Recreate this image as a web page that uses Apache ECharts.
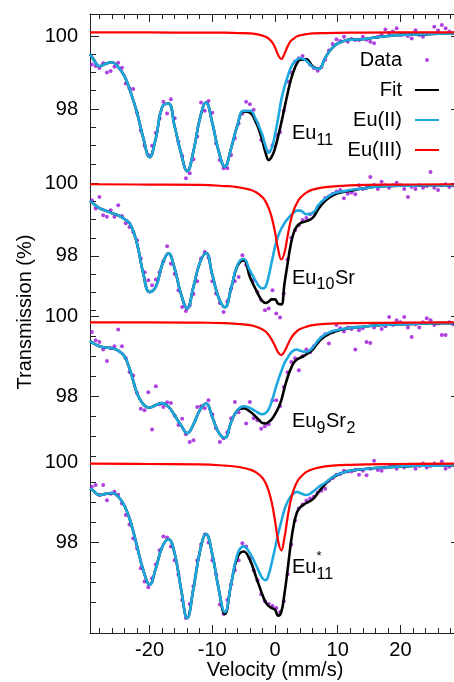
<!DOCTYPE html>
<html><head><meta charset="utf-8">
<script src="https://cdn.jsdelivr.net/npm/echarts@6/dist/echarts.min.js"></script>
<style>html,body{margin:0;padding:0;background:#fff}#c{width:454px;height:682px}</style>
</head><body><div id="c"></div>
<script>
// ---------------- data ----------------
const velocityTicksMajor = [-20, -10, 0, 10, 20];
const velocityTicksMinor = [-28,-26,-24,-22,-18,-16,-14,-12,-8,-6,-4,-2,2,4,6,8,12,14,16,18,22,24,26,28];
const transTicksMajor = [98, 100];
const transTicksMinor = [96.5, 97, 97.5, 98.5, 99, 99.5];
const seriesNames = ['Data', 'Fit', 'Eu(II)', 'Eu(III)'];

const dataV = [
 -29.2,-28.6,-28.0,-27.4,-26.8,-26.2,-25.6,-25.0,-24.4,-23.8,
 -23.2,-22.6,-22.0,-21.4,-20.8,-20.2,-19.6,-19.0,-18.4,-17.8,
 -17.2,-16.6,-16.0,-15.4,-14.8,-14.2,-13.6,-13.0,-12.4,-11.8,
 -11.2,-10.6,-10.0,-9.4,-8.8,-8.2,-7.6,-7.0,-6.4,-5.8,
 -5.2,-4.6,-4.0,-3.4,-2.8,-2.2,-1.6,-1.0,-0.4,0.2,
 0.8,1.4,2.0,2.6,3.2,3.8,4.4,5.0,5.6,6.2,
 6.8,7.4,8.0,8.6,9.2,9.8,10.4,11.0,11.6,12.2,
 12.8,13.4,14.0,14.6,15.2,15.8,16.4,17.0,17.6,18.2,
 18.8,19.4,20.0,20.6,21.2,21.8,22.4,23.0,23.6,24.2,
 24.8,25.4,26.0,26.6,27.2,27.8,28.4];

const dataEu11 = [
 99.22,99.18,99.12,99.25,99.00,99.04,99.16,99.27,99.13,98.70,
 98.57,98.55,97.90,97.41,96.99,96.74,96.99,97.35,97.75,98.20,
 97.88,98.27,97.75,97.10,96.71,96.10,96.24,96.62,97.25,98.18,
 97.95,98.22,97.90,97.06,96.60,96.38,96.38,96.74,97.20,97.60,
 97.88,98.20,98.13,97.98,97.60,97.15,96.95,96.83,97.01,97.29,
 97.36,97.95,98.75,99.00,99.30,99.39,99.45,99.35,99.22,99.12,
 99.05,99.15,99.35,99.60,99.78,99.91,99.86,99.98,99.84,99.92,
 99.89,99.89,99.98,99.90,99.84,99.80,99.98,100.04,100.18,100.08,
 100.12,100.21,100.03,100.07,100.00,99.93,100.16,100.03,99.98,100.05,
 100.07,100.25,100.15,100.30,100.21,100.12,100.08];
const dataEu10Sr = [
 99.54,99.31,99.63,99.12,99.08,99.26,99.08,99.40,99.10,98.90,
 98.80,98.66,98.43,97.93,97.55,97.33,97.19,97.35,97.55,97.85,
 98.27,97.78,97.50,97.05,96.59,96.48,96.64,96.95,97.30,97.93,
 98.11,97.95,97.30,96.96,96.70,96.45,96.75,97.10,97.30,97.42,
 98.02,97.75,97.50,97.33,97.00,96.78,96.50,96.55,97.05,96.41,
 96.30,96.96,97.90,98.50,98.71,98.85,98.99,99.05,99.15,99.20,
 99.35,99.44,99.60,99.65,99.72,99.78,99.82,99.59,99.72,99.75,
 99.70,99.95,99.85,99.88,100.18,99.96,99.85,100.05,99.95,99.88,
 99.95,100.02,99.95,99.85,99.63,99.90,99.85,99.95,99.88,99.93,
 100.32,99.88,99.82,99.95,99.98,99.90,99.95];
const dataEu9Sr2 = [
 99.61,99.40,99.36,99.17,98.88,99.20,99.25,99.67,99.25,98.95,
 98.61,98.52,98.08,97.69,97.65,98.10,97.17,98.25,97.80,97.73,
 97.85,97.83,97.52,97.28,97.44,97.05,96.86,96.90,97.73,97.75,
 97.70,97.90,97.55,97.20,96.86,96.95,97.10,97.45,97.86,97.60,
 97.70,97.32,97.86,97.45,97.40,97.19,97.25,97.30,97.90,97.90,
 97.75,98.23,98.60,98.86,98.95,98.65,99.00,99.17,99.10,99.25,
 99.35,99.47,99.55,99.32,99.60,99.78,99.70,99.62,99.72,99.68,
 99.17,99.65,99.70,99.36,99.33,99.72,99.80,99.68,99.75,99.98,
 99.78,99.90,99.85,99.98,99.72,99.48,99.80,99.72,99.85,99.95,
 99.90,99.78,99.82,99.53,99.53,99.85,99.80];
const dataEu11s = [
 99.40,99.44,99.19,99.44,99.06,99.22,99.27,99.20,98.98,98.69,
 98.45,98.10,97.85,97.35,97.02,96.87,97.10,97.45,97.80,98.15,
 98.12,97.90,97.55,97.20,96.55,96.10,96.45,96.90,97.55,97.95,
 98.20,98.00,97.55,97.20,96.44,96.20,96.55,96.95,97.30,97.55,
 97.98,97.90,97.60,97.30,97.05,96.70,96.52,96.45,96.40,96.35,
 96.25,96.52,97.20,97.95,98.55,98.85,98.95,99.05,99.10,99.15,
 99.25,99.30,99.35,99.55,99.62,99.70,99.72,99.80,99.78,99.78,
 99.82,99.70,99.80,99.69,99.85,100.05,99.82,99.80,99.88,99.95,
 99.92,99.85,99.95,99.88,99.92,99.95,99.85,99.92,99.98,99.88,
 99.92,99.98,99.95,100.03,99.85,99.90,99.95];

const curveV = [
 -29.5,-29,-28,-27,-26,-25,-24,-23,-22,-21,
 -20,-19,-18,-17,-16,-15,-14,-13,-12,-11,
 -10,-9,-8,-7,-6,-5,-4,-3,-2.5,-2,
 -1.5,-1,-0.5,0,0.5,1,1.5,2,2.5,3,
 3.5,4,5,6,7,8,9,10,11,12,
 14,16,18,20,22,24,26,28.5];

const fitEu11 = [
 99.50,99.38,99.17,99.24,99.28,99.15,98.90,98.45,97.90,97.20,
 96.68,97.20,98.05,98.15,97.52,96.80,96.30,96.85,97.72,98.18,
 97.62,96.85,96.42,96.92,97.55,97.93,97.90,97.62,97.40,97.12,
 96.80,96.60,96.70,96.92,97.25,97.62,98.02,98.42,98.78,99.05,
 99.25,99.35,99.36,99.17,99.10,99.40,99.65,99.80,99.86,99.90,
 99.91,99.96,100.00,100.03,100.04,100.05,100.06,100.07];
const eu2Eu11 = [
 99.50,99.38,99.17,99.24,99.28,99.15,98.90,98.45,97.90,97.20,
 96.68,97.20,98.05,98.15,97.52,96.80,96.30,96.85,97.72,98.18,
 97.62,96.85,96.42,96.92,97.55,97.95,97.95,97.70,97.50,97.28,
 96.98,96.80,96.95,97.30,97.75,98.25,98.60,98.88,99.12,99.27,
 99.35,99.39,99.32,99.15,99.10,99.40,99.65,99.80,99.86,99.90,
 99.91,99.96,100.00,100.03,100.04,100.05,100.06,100.07];

const fitEu10Sr = [
 99.52,99.45,99.32,99.25,99.18,99.12,99.02,98.85,98.34,97.51,
 97.00,97.15,97.75,98.07,97.65,96.95,96.55,97.15,97.80,98.08,
 97.48,96.85,96.58,97.10,97.72,97.88,97.42,97.05,96.88,96.75,
 96.70,96.74,96.80,96.80,96.68,96.66,97.22,97.78,98.30,98.65,
 98.82,98.90,98.96,99.05,99.32,99.52,99.65,99.73,99.77,99.80,
 99.86,99.91,99.93,99.94,99.94,99.95,99.95,99.95];
const eu2Eu10Sr = [
 99.52,99.45,99.32,99.25,99.18,99.12,99.02,98.85,98.34,97.51,
 97.00,97.15,97.75,98.07,97.65,96.95,96.55,97.15,97.80,98.08,
 97.48,96.85,96.58,97.10,97.75,97.92,97.60,97.28,97.15,97.10,
 97.15,97.45,97.85,98.25,98.55,98.75,98.90,99.02,99.12,99.20,
 99.25,99.25,99.15,99.18,99.42,99.58,99.70,99.76,99.79,99.82,
 99.86,99.91,99.93,99.94,99.94,99.95,99.95,99.95];

const fitEu9Sr2 = [
 99.38,99.33,99.25,99.22,99.20,99.14,99.00,98.60,98.08,97.80,
 97.72,97.78,97.83,97.74,97.52,97.28,97.08,97.30,97.65,97.82,
 97.48,97.10,96.96,97.35,97.65,97.70,97.62,97.48,97.40,97.33,
 97.32,97.36,97.43,97.55,97.70,97.90,98.20,98.47,98.68,98.84,
 98.92,98.96,99.05,99.17,99.37,99.50,99.59,99.64,99.68,99.71,
 99.74,99.77,99.79,99.80,99.81,99.82,99.83,99.83];
const eu2Eu9Sr2 = [
 99.38,99.33,99.25,99.22,99.20,99.14,99.00,98.60,98.08,97.80,
 97.72,97.78,97.83,97.74,97.52,97.28,97.08,97.30,97.65,97.82,
 97.48,97.10,96.96,97.35,97.65,97.75,97.71,97.62,97.57,97.55,
 97.58,97.68,97.88,98.15,98.40,98.62,98.83,98.96,99.08,99.15,
 99.17,99.14,99.11,99.22,99.42,99.55,99.62,99.66,99.69,99.71,
 99.74,99.77,99.79,99.80,99.81,99.82,99.83,99.83];

const fitEu11s = [
 99.35,99.30,99.19,99.22,99.24,99.15,98.92,98.50,97.90,97.30,
 96.94,97.35,97.88,98.08,97.72,96.85,96.10,96.85,97.75,98.21,
 97.70,96.85,96.20,96.95,97.62,97.77,97.56,97.12,96.90,96.68,
 96.50,96.40,96.35,96.31,96.16,96.25,96.70,97.30,97.95,98.45,
 98.75,98.88,98.99,99.08,99.28,99.46,99.61,99.70,99.76,99.80,
 99.84,99.87,99.89,99.91,99.92,99.93,99.93,99.94];
const eu2Eu11s = [
 99.35,99.30,99.19,99.22,99.24,99.15,98.92,98.50,97.90,97.30,
 96.94,97.35,97.88,98.08,97.72,96.85,96.10,96.85,97.75,98.21,
 97.70,96.85,96.25,96.95,97.70,97.90,97.73,97.42,97.25,97.10,
 97.05,97.20,97.50,97.85,98.22,98.52,98.82,99.02,99.15,99.23,
 99.27,99.24,99.19,99.27,99.40,99.50,99.62,99.71,99.76,99.80,
 99.84,99.87,99.89,99.91,99.92,99.93,99.93,99.94];

const redV = [-29.5,-20,-12,-8,-6,-4,-3,-2,-1.5,-1,-0.5,0,0.5,1,1.5,2,2.5,3,3.5,4,5,6,8,12,20,28.5];
const eu3Eu11 = [100.10,100.10,100.09,100.09,100.08,100.07,100.05,100.01,99.98,99.93,99.84,99.69,99.48,99.37,99.51,99.71,99.86,99.93,99.99,100.02,100.05,100.07,100.08,100.09,100.10,100.10];
const eu3Eu10Sr = [99.98,99.97,99.96,99.93,99.90,99.83,99.76,99.62,99.50,99.32,99.05,98.66,98.19,97.90,98.08,98.54,98.97,99.27,99.46,99.60,99.75,99.83,99.90,99.95,99.97,99.98];
const eu3Eu9Sr2 = [99.85,99.85,99.84,99.83,99.81,99.78,99.74,99.67,99.62,99.53,99.41,99.26,99.10,99.03,99.12,99.28,99.44,99.55,99.63,99.68,99.74,99.78,99.81,99.83,99.84,99.85];
const eu3Eu11s = [99.98,99.97,99.96,99.93,99.90,99.83,99.76,99.62,99.49,99.29,98.99,98.55,98.04,97.80,98.11,98.62,99.05,99.33,99.51,99.63,99.77,99.84,99.91,99.95,99.97,99.98];

// ---------------- layout / style ----------------
const FONT = '"Liberation Sans", Arial, Helvetica, sans-serif';
const PURPLE = '#9c14d8', CYAN = '#1ea8e0', RED = '#ff0000', BLACK = '#000000', AXIS = '#222222';
const panels = [
  {top: 14,  height: 159, min: 96.2466, max: 100.6027, pts: dataEu11,  fit: fitEu11,  e2: eu2Eu11,  e3: eu3Eu11},
  {top: 173, height: 140, min: 96.4227, max: 100.2901, pts: dataEu10Sr, fit: fitEu10Sr, e2: eu2Eu10Sr, e3: eu3Eu10Sr},
  {top: 313, height: 146, min: 96.4325, max: 100.0825, pts: dataEu9Sr2, fit: fitEu9Sr2, e2: eu2Eu9Sr2, e3: eu3Eu9Sr2},
  {top: 459, height: 174, min: 95.7236, max: 100.0955, pts: dataEu11s, fit: fitEu11s, e2: eu2Eu11s, e3: eu3Eu11s}
];
const X0 = -29.5, X1 = 29.5;

const grid = [{left: 90, width: 370, top: 14, height: 619, outerBoundsMode: 'none', containLabel: false}]
  .concat(panels.map(p => ({left: 90, width: 370, top: p.top, height: p.height, outerBoundsMode: 'none', containLabel: false})));

const hiddenAxis = {type: 'value', splitLine: {show: false}, axisLine: {show: false, onZero: false},
  axisTick: {show: false}, axisLabel: {show: false}};
const tickLine = {color: AXIS, width: 1};

const xAxis = [
  Object.assign({}, hiddenAxis, {gridIndex: 0, min: X0, max: X1, position: 'bottom',
    axisLine: {show: true, onZero: false, lineStyle: tickLine},
    axisTick: {show: true, inside: true, length: 8, customValues: velocityTicksMajor, lineStyle: tickLine},
    axisLabel: {show: true, customValues: velocityTicksMajor, fontSize: 20, fontFamily: FONT, color: '#000', margin: 7},
    name: 'Velocity (mm/s)', nameLocation: 'middle', nameGap: 27, nameMoveOverlap: false,
    nameTextStyle: {fontSize: 20, fontFamily: FONT, color: '#000'}}),
  Object.assign({}, hiddenAxis, {gridIndex: 0, min: X0, max: X1, position: 'bottom',
    axisTick: {show: true, inside: true, length: 5, customValues: velocityTicksMinor, lineStyle: tickLine}}),
  Object.assign({}, hiddenAxis, {gridIndex: 0, min: X0, max: X1, position: 'top',
    axisLine: {show: true, onZero: false, lineStyle: tickLine},
    axisTick: {show: true, inside: true, length: 8, customValues: velocityTicksMajor, lineStyle: tickLine}}),
  Object.assign({}, hiddenAxis, {gridIndex: 0, min: X0, max: X1, position: 'top',
    axisTick: {show: true, inside: true, length: 5, customValues: velocityTicksMinor, lineStyle: tickLine}})
].concat(panels.map((p, i) => Object.assign({}, hiddenAxis, {gridIndex: i + 1, min: X0, max: X1, position: 'bottom'})));

const yAxis = [Object.assign({}, hiddenAxis, {gridIndex: 0, min: 0, max: 1, position: 'left',
  axisLine: {show: true, onZero: false, lineStyle: tickLine}})];
panels.forEach((p, i) => {
  yAxis.push(Object.assign({}, hiddenAxis, {gridIndex: i + 1, min: p.min, max: p.max, position: 'left',
    axisTick: {show: true, inside: true, length: 9, customValues: transTicksMajor, lineStyle: tickLine},
    axisLabel: {show: true, customValues: transTicksMajor, fontSize: 20, fontFamily: FONT, color: '#000', margin: 12}}));
  yAxis.push(Object.assign({}, hiddenAxis, {gridIndex: i + 1, min: p.min, max: p.max, position: 'left',
    axisTick: {show: true, inside: true, length: 6, customValues: transTicksMinor, lineStyle: tickLine}}));
  yAxis.push(Object.assign({}, hiddenAxis, {gridIndex: i + 1, min: p.min, max: p.max, position: 'right',
    axisTick: {show: true, inside: true, length: 9, customValues: transTicksMajor, lineStyle: tickLine}}));
});

const zip = (xs, ys) => xs.map((x, k) => [x, ys[k]]);
const series = [];
panels.forEach((p, i) => {
  const xi = 4 + i, yi = 1 + 3 * i;
  series.push({type: 'scatter', name: seriesNames[0], xAxisIndex: xi, yAxisIndex: yi, clip: false, silent: true,
    data: zip(dataV, p.pts), symbol: 'circle', symbolSize: 4, itemStyle: {color: PURPLE}});
  series.push({type: 'line', name: seriesNames[1], xAxisIndex: xi, yAxisIndex: yi, clip: false, silent: true,
    data: zip(curveV, p.fit), symbol: 'none', smooth: 0.45,
    lineStyle: {color: BLACK, width: 2.6}, itemStyle: {color: BLACK}});
  series.push({type: 'line', name: seriesNames[2], xAxisIndex: xi, yAxisIndex: yi, clip: false, silent: true,
    data: zip(curveV, p.e2), symbol: 'none', smooth: 0.45,
    lineStyle: {color: CYAN, width: 2.6}, itemStyle: {color: CYAN}});
  series.push({type: 'line', name: seriesNames[3], xAxisIndex: xi, yAxisIndex: yi, clip: false, silent: true,
    data: zip(redV, p.e3), symbol: 'none', smooth: 0.45,
    lineStyle: {color: RED, width: 2.2}, itemStyle: {color: RED}});
});

function txt(x, y, text, size) {
  return {type: 'text', x: x, y: y, silent: true,
    style: {text: text, fontSize: size, fontFamily: FONT, fill: '#000', align: 'left', verticalAlign: 'middle'}};
}
const graphic = [
  {type: 'text', x: 25, y: 312, rotation: Math.PI / 2, silent: true,
    style: {text: 'Transmission (%)', fontSize: 20, fontFamily: FONT, fill: '#000', align: 'center', verticalAlign: 'middle'}},
  txt(292, 133, 'Eu', 20), txt(316.5, 140.5, '11', 16),
  txt(292, 278, 'Eu', 20), txt(316.5, 285, '10', 16), txt(335, 278, 'Sr', 20),
  txt(292, 421.7, 'Eu', 20), txt(316.5, 428.5, '9', 16), txt(326, 421.7, 'Sr', 20), txt(346.5, 428.5, '2', 16),
  txt(292, 567, 'Eu', 20), txt(316.5, 556, '*', 13), txt(316.5, 574.5, '11', 16)
];

const lineLegend = name => ({name: name, itemStyle: {opacity: 0}});
const option = {
  animation: false,
  backgroundColor: '#fff',
  grid: grid, xAxis: xAxis, yAxis: yAxis, series: series, graphic: graphic,
  legend: {orient: 'vertical', right: 14, top: 50, align: 'right', padding: 0,
    itemWidth: 24, itemHeight: 4, itemGap: 10, selectedMode: false,
    data: [{name: seriesNames[0]}, lineLegend(seriesNames[1]), lineLegend(seriesNames[2]), lineLegend(seriesNames[3])],
    textStyle: {fontSize: 20, fontFamily: FONT, color: '#000', lineHeight: 20, padding: [0, 8, 0, 0]}}
};
const chart = echarts.init(document.getElementById('c'), null, {renderer: 'canvas'});
chart.setOption(option);
</script></body></html>
